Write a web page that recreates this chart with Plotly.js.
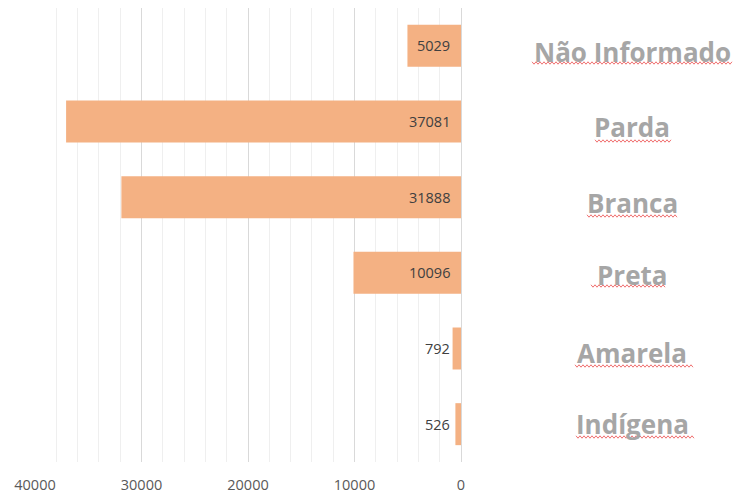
<!DOCTYPE html>
<html>
<head>
<meta charset="utf-8">
<script src="https://cdn.plot.ly/plotly-3.0.1.min.js"></script>
<style>html,body{margin:0;padding:0;background:#fff;}#chart{width:738px;height:497px;}</style>
</head>
<body>
<div id="chart"></div>
<script>
// Data (top to bottom)
const categories = ['Não Informado', 'Parda', 'Branca', 'Preta', 'Amarela', 'Indígena'];
const values = [5029, 37081, 31888, 10096, 792, 526];
const tickValues = [40000, 30000, 20000, 10000, 0];
const tickLabels = ['40000', '30000', '20000', '10000', '0'];

// Layout constants (pixels)
const W = 738, H = 497, L = 35, R = 277, T = 8, B = 35;
const pw = W - L - R, ph = H - T - B;
const px2x = p => (p - L) / pw;
const py2y = p => 1 - (p - T) / ph;

// Category label vertical offsets and underline placement (style only)
const labelShift = [-6, -5, -6, -2, -4, 0];
const underline = [[532, 732, 63], [595, 671, 141], [587, 677, 216], [591, 665, 286], [575, 693, 366], [576, 695, 437]];

const trace = {
  type: 'bar',
  orientation: 'h',
  y: categories,
  x: values,
  marker: {color: '#F4B183'},
  hoverinfo: 'none'
};

const annotations = [];
categories.forEach((c, i) => {
  annotations.push({
    x: 0, y: c, xref: 'x', yref: 'y', xanchor: 'right', yanchor: 'middle',
    xshift: -9, text: String(values[i]), showarrow: false,
    font: {family: 'Open Sans, sans-serif', size: 14.5, color: '#404040'}
  });
  annotations.push({
    x: px2x(632), y: c, xref: 'paper', yref: 'y', xanchor: 'center', yanchor: 'middle',
    yshift: labelShift[i], text: '<b>' + c + '</b>', showarrow: false,
    font: {family: 'Open Sans, sans-serif', size: 26, color: '#A6A6A6'}
  });
});

const shapes = underline.map(u => {
  let d = '';
  let k = 0;
  for (let p = u[0]; p <= u[1]; p += 2, k++) {
    const yy = u[2] + (k % 2 ? 1.2 : -1.2);
    d += (k === 0 ? 'M' : 'L') + px2x(p) + ',' + py2y(yy) + ' ';
  }
  return {type: 'path', xref: 'paper', yref: 'paper', path: d, line: {color: '#F07070', width: 1}};
});

const layout = {
  width: W, height: H,
  margin: {l: L, r: R, t: T, b: B, pad: 0},
  paper_bgcolor: '#fff', plot_bgcolor: '#fff',
  showlegend: false,
  bargap: 0.445,
  xaxis: {
    range: [40000, 0],
    tickmode: 'array', tickvals: tickValues, ticktext: tickLabels,
    showgrid: true, gridcolor: '#D9D9D9', gridwidth: 1,
    minor: {dtick: 2000, showgrid: true, gridcolor: '#EFEFEF', gridwidth: 1},
    zeroline: true, zerolinecolor: '#D9D9D9', zerolinewidth: 1,
    showline: false, ticks: '',
    ticklabelstandoff: 12,
    tickfont: {family: 'Open Sans, sans-serif', size: 14.5, color: '#595959'},
    fixedrange: true
  },
  yaxis: {
    autorange: 'reversed',
    showticklabels: false, showgrid: false, zeroline: false, showline: false, ticks: '',
    fixedrange: true
  },
  annotations: annotations,
  shapes: shapes
};

Plotly.newPlot('chart', [trace], layout, {staticPlot: true, displayModeBar: false});
</script>
</body>
</html>
